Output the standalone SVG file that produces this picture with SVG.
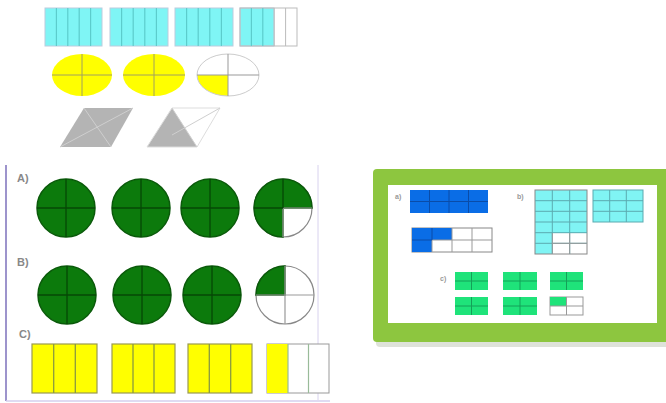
<svg xmlns="http://www.w3.org/2000/svg" width="666" height="403" viewBox="0 0 666 403">
<style>
.cy{fill:#7ff5f5;stroke:#bcd;stroke-width:1}
.cyl{stroke:#5ccccc;stroke-width:1.2}
.wl{stroke:#bbb;stroke-width:1;fill:none}
.yel{fill:#ffff00}
.el{stroke:#a0a060;stroke-width:1;fill:none}
.gr{fill:#b4b4b4}
.grl{stroke:#cfcfcf;stroke-width:1;fill:none}
.gc{fill:#0c7a0c;stroke:#0a5a0a;stroke-width:1.5}
.gcl{stroke:#064806;stroke-width:1.3}
.wc{fill:#fff;stroke:#888;stroke-width:1.2}
.wcl{stroke:#999;stroke-width:1.2}
.yr{fill:#ffff00;stroke:#9a9a50;stroke-width:1.2}
.yrl{stroke:#8a9a40;stroke-width:1.3}
.wr{fill:#fff;stroke:#999;stroke-width:1}
.lbl{font-family:"Liberation Sans",Arial,sans-serif;font-size:11px;font-weight:bold;fill:#888}
.sl{font-family:"Liberation Sans",Arial,sans-serif;font-size:7px;font-weight:bold;fill:#999}
.bl{fill:#0a6de6}
.bll{stroke:#0a4ca8;stroke-width:1}
.cg{fill:#80f4f4}
.cgl{stroke:#5aaab0;stroke-width:1}
.sg{fill:#1fe37a}
.sgl{stroke:#14a058;stroke-width:1}
.gl{stroke:#999;stroke-width:1;fill:none}
</style>

<g id="bars">
  <rect class="cy" x="45" y="8" width="57" height="38"/>
  <rect class="cy" x="110" y="8" width="58" height="38"/>
  <rect class="cy" x="175" y="8" width="58" height="38"/>
  <rect class="cy" x="240" y="8" width="34" height="38"/>
  <rect class="wl" x="240" y="8" width="57" height="38"/>
  <g class="cyl">
    <line x1="56.4" y1="8" x2="56.4" y2="46"/><line x1="67.8" y1="8" x2="67.8" y2="46"/><line x1="79.2" y1="8" x2="79.2" y2="46"/><line x1="90.6" y1="8" x2="90.6" y2="46"/>
    <line x1="121.6" y1="8" x2="121.6" y2="46"/><line x1="133.2" y1="8" x2="133.2" y2="46"/><line x1="144.8" y1="8" x2="144.8" y2="46"/><line x1="156.4" y1="8" x2="156.4" y2="46"/>
    <line x1="186.6" y1="8" x2="186.6" y2="46"/><line x1="198.2" y1="8" x2="198.2" y2="46"/><line x1="209.8" y1="8" x2="209.8" y2="46"/><line x1="221.4" y1="8" x2="221.4" y2="46"/>
    <line x1="251.4" y1="8" x2="251.4" y2="46"/><line x1="262.8" y1="8" x2="262.8" y2="46"/>
  </g>
  <g class="wl">
    <line x1="274.2" y1="8" x2="274.2" y2="46"/><line x1="285.6" y1="8" x2="285.6" y2="46"/>
  </g>
</g>

<g id="ellipses">
  <ellipse class="yel" cx="82" cy="75" rx="30" ry="21"/>
  <path class="el" d="M52 75H112M82 54V96"/>
  <ellipse class="yel" cx="154" cy="75" rx="31" ry="21"/>
  <path class="el" d="M123 75H185M154 54V96"/>
  <path class="yel" d="M228 75L228 96A31 21 0 0 1 197 75Z"/>
  <ellipse cx="228" cy="75" rx="31" ry="21" fill="none" stroke="#ccc" stroke-width="1"/>
  <path d="M197 75H259M228 54V96" stroke="#999" stroke-width="1" fill="none"/>
</g>

<g id="parallelograms">
  <polygon class="gr" points="84,108 133,108 111,147 60,147"/>
  <path class="grl" d="M84 108L111 147M133 108L60 147"/>
  <polygon class="gr" points="172,108 197,147 147,147"/>
  <polygon points="172,108 220,108 197,147 147,147" fill="none" stroke="#ddd" stroke-width="1"/>
  <path class="grl" d="M172 108L197 147M220 108L172 135"/>
</g>

<g id="panel-left">
  <line x1="6" y1="165" x2="6" y2="401" stroke="#9d94cc" stroke-width="2"/>
  <line x1="6" y1="401" x2="330" y2="401" stroke="#d4cfee" stroke-width="1.5"/>
  <line x1="318" y1="165" x2="318" y2="400" stroke="#d8d2ee" stroke-width="1"/>
</g>

<g id="row-a">
  <text class="lbl" x="17" y="182">A)</text>
  <circle class="gc" cx="66" cy="208" r="29"/>
  <path class="gcl" d="M37 208H95M66 179V237"/>
  <circle class="gc" cx="141" cy="208" r="29"/>
  <path class="gcl" d="M112 208H170M141 179V237"/>
  <circle class="gc" cx="210" cy="208" r="29"/>
  <path class="gcl" d="M181 208H239M210 179V237"/>
  <circle class="wc" cx="283" cy="208" r="29"/>
  <path class="gc" d="M283 208L283 237A29 29 0 1 1 312 208Z"/>
  <path class="wcl" d="M283 208H312M283 208V237"/>
  <path class="gcl" d="M254 208H283M283 179V208"/>
</g>

<g id="row-b">
  <text class="lbl" x="17" y="266">B)</text>
  <circle class="gc" cx="67" cy="295" r="29"/>
  <path class="gcl" d="M38 295H96M67 266V324"/>
  <circle class="gc" cx="142" cy="295" r="29"/>
  <path class="gcl" d="M113 295H171M142 266V324"/>
  <circle class="gc" cx="212" cy="295" r="29"/>
  <path class="gcl" d="M183 295H241M212 266V324"/>
  <circle class="wc" cx="285" cy="295" r="29"/>
  <path class="gc" d="M285 295L256 295A29 29 0 0 1 285 266Z"/>
  <path class="wcl" d="M256 295H314M285 266V324"/>
</g>

<g id="row-c">
  <text class="lbl" x="19" y="338">C)</text>
  <rect class="yr" x="32" y="344" width="65" height="49"/>
  <path class="yrl" d="M53.7 344V393M75.3 344V393"/>
  <rect class="yr" x="112" y="344" width="63" height="49"/>
  <path class="yrl" d="M133 344V393M154 344V393"/>
  <rect class="yr" x="188" y="344" width="64" height="49"/>
  <path class="yrl" d="M209.3 344V393M230.7 344V393"/>
  <rect class="wr" x="267" y="344" width="62" height="49" stroke="#9c9"/>
  <rect class="yel" x="267" y="344" width="21" height="49"/>
  <path d="M288 344V393M308.5 344V393" stroke="#9b9" stroke-width="1.2"/>
</g>

<g id="panel-right">
  <rect x="376" y="173" width="300" height="174" rx="4" fill="#c8cfc0" opacity="0.6"/>
  <rect x="373" y="169" width="300" height="173" rx="4" fill="#8dc63f"/>
  <rect x="388" y="185" width="269" height="138" fill="#fff"/>
</g>

<g id="part-a">
  <text class="sl" x="395" y="199">a)</text>
  <rect class="bl" x="410" y="190" width="78" height="23"/>
  <path class="bll" d="M429.5 190V213M449 190V213M468.5 190V213M410 201.5H488"/>
  <rect x="412" y="228" width="80" height="24" fill="#fff" stroke="#888" stroke-width="1"/>
  <path class="bl" d="M412 228H452V240H432V252H412Z"/>
  <path class="gl" d="M432 240V252M452 228V252M472 228V252M432 240H492"/>
  <path class="bll" d="M432 228V240M412 240H432"/>
</g>

<g id="part-b">
  <text class="sl" x="517" y="199">b)</text>
  <rect class="cg" x="535" y="190" width="52" height="43"/>
  <rect class="cg" x="535" y="233" width="17.3" height="21"/>
  <rect x="535" y="190" width="52" height="64" fill="none" stroke="#888" stroke-width="1"/>
  <path class="cgl" d="M552.3 190V254M569.7 190V254M535 200.7H587M535 211.3H587M535 222H587M535 232.7H587M535 243.3H587"/>
  <path class="gl" d="M552.3 233V254M569.7 233V254M552.3 243.3H587"/>
  <rect class="cg" x="593" y="190" width="50" height="32"/>
  <path class="cgl" d="M609.7 190V222M626.3 190V222M593 200.7H643M593 211.3H643"/>
  <rect x="593" y="190" width="50" height="32" fill="none" stroke="#5aaab0" stroke-width="1"/>
</g>

<g id="part-c">
  <text class="sl" x="440" y="281">c)</text>
  <rect class="sg" x="455" y="272" width="33" height="18"/>
  <path class="sgl" d="M471.5 272V290M455 281H488"/>
  <rect class="sg" x="503" y="272" width="34" height="18"/>
  <path class="sgl" d="M520 272V290M503 281H537"/>
  <rect class="sg" x="550" y="272" width="33" height="18"/>
  <path class="sgl" d="M566.5 272V290M550 281H583"/>
  <rect class="sg" x="455" y="297" width="33" height="18"/>
  <path class="sgl" d="M471.5 297V315M455 306H488"/>
  <rect class="sg" x="503" y="297" width="34" height="18"/>
  <path class="sgl" d="M520 297V315M503 306H537"/>
  <rect x="550" y="297" width="33" height="18" fill="#fff" stroke="#999" stroke-width="1"/>
  <rect class="sg" x="550" y="297" width="16.5" height="9"/>
  <path class="gl" d="M566.5 297V315M550 306H583"/>
</g>
</svg>
